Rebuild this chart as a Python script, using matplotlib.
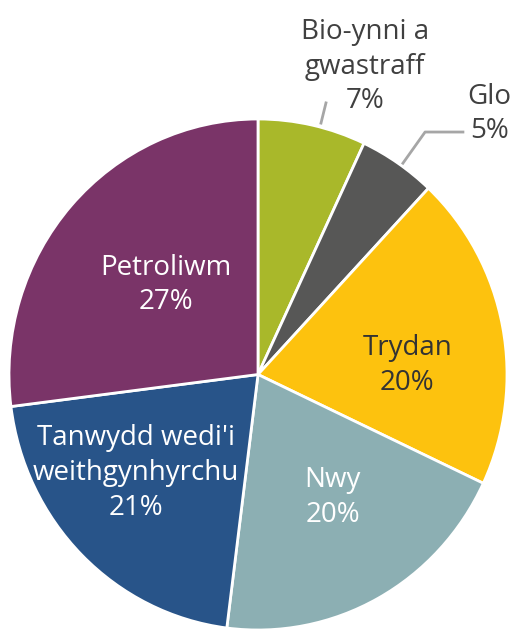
import matplotlib.pyplot as plt

# energy use shares, clockwise from the top
labels = ["Bio-ynni a\ngwastraff", "Glo", "Trydan", "Nwy",
          "Tanwydd wedi'i\nweithgynhyrchu", "Petroliwm"]
values = [7, 5, 20, 20, 21, 27]
colors = ["#a9b82a", "#575756", "#fdc20e", "#8cafb3", "#285489", "#7a3468"]
text_colors = ["#404040", "#404040", "#333333", "white", "white", "white"]

# label centres in axes data units (pie radius = 1)
label_pos = [(0.43, 1.205), (0.93, 1.02), (0.60, 0.035),
             (0.30, -0.48), (-0.49, -0.385), (-0.37, 0.35)]

plt.rcParams['font.family'] = ['Open Sans', 'DejaVu Sans']

fig = plt.figure(figsize=(5.15, 6.31), dpi=100)
ax = fig.add_axes([9/515, 1/631, 498/515, 511/631])

ax.pie(values, colors=colors, startangle=90, counterclock=False,
       wedgeprops=dict(edgecolor="white", linewidth=2))
ax.set_aspect('auto')
ax.set_xlim(-1, 1)
ax.set_ylim(-1, 1)

for lab, v, (x, y), c in zip(labels, values, label_pos, text_colors):
    ax.text(x, y, f"{lab}\n{v}%", ha="center", va="center", color=c,
            fontsize=20, linespacing=1.32, clip_on=False)

# leader lines for the two small slices
ax.plot([0.253, 0.273], [0.984, 1.063], color="#a6a6a6", lw=2, clip_on=False)
ax.plot([0.582, 0.671, 0.823], [0.827, 0.949, 0.949], color="#a6a6a6", lw=2, clip_on=False)

fig.savefig("out.png", dpi=100)
